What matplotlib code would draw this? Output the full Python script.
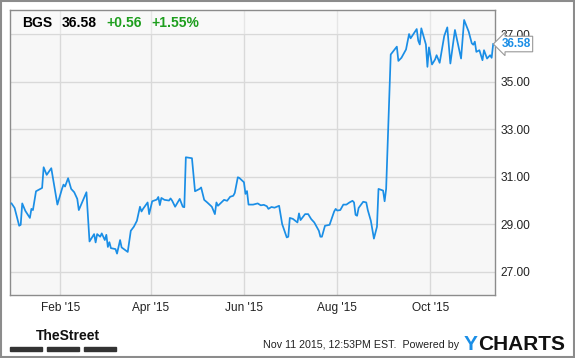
import matplotlib
matplotlib.use("Agg")
import matplotlib.pyplot as plt
import matplotlib.patches as patches
import pandas as pd

plt.rcParams['font.family'] = ['Liberation Sans', 'DejaVu Sans']

# BGS daily close
dates = [
    '2014-12-31', '2015-01-02', '2015-01-05', '2015-01-06', '2015-01-07', '2015-01-09',
    '2015-01-12', '2015-01-13', '2015-01-14', '2015-01-16', '2015-01-20', '2015-01-21',
    '2015-01-23', '2015-01-26', '2015-01-28', '2015-01-30', '2015-02-02', '2015-02-03',
    '2015-02-04', '2015-02-06', '2015-02-08', '2015-02-10', '2015-02-12', '2015-02-13',
    '2015-02-18', '2015-02-20', '2015-02-23', '2015-02-24', '2015-02-25', '2015-02-27',
    '2015-02-28', '2015-03-02', '2015-03-03', '2015-03-04', '2015-03-05', '2015-03-06',
    '2015-03-09', '2015-03-10', '2015-03-12', '2015-03-13', '2015-03-17', '2015-03-19',
    '2015-03-21', '2015-03-23', '2015-03-25', '2015-03-26', '2015-03-27', '2015-03-30',
    '2015-03-31', '2015-04-02', '2015-04-05', '2015-04-06', '2015-04-07', '2015-04-08',
    '2015-04-10', '2015-04-13', '2015-04-14', '2015-04-15', '2015-04-17', '2015-04-20',
    '2015-04-22', '2015-04-23', '2015-04-24', '2015-04-28', '2015-04-30', '2015-05-03',
    '2015-05-04', '2015-05-06', '2015-05-08', '2015-05-11', '2015-05-13', '2015-05-14',
    '2015-05-15', '2015-05-19', '2015-05-21', '2015-05-23', '2015-05-25', '2015-05-26',
    '2015-05-28', '2015-05-29', '2015-06-01', '2015-06-02', '2015-06-03', '2015-06-04',
    '2015-06-07', '2015-06-10', '2015-06-12', '2015-06-14', '2015-06-16', '2015-06-17',
    '2015-06-19', '2015-06-21', '2015-06-24', '2015-06-26', '2015-06-29', '2015-06-30',
    '2015-07-01', '2015-07-03', '2015-07-06', '2015-07-07', '2015-07-08', '2015-07-11',
    '2015-07-13', '2015-07-15', '2015-07-17', '2015-07-20', '2015-07-21', '2015-07-22',
    '2015-07-24', '2015-07-27', '2015-07-30', '2015-07-31', '2015-08-01', '2015-08-03',
    '2015-08-05', '2015-08-07', '2015-08-09', '2015-08-11', '2015-08-12', '2015-08-13',
    '2015-08-14', '2015-08-15', '2015-08-18', '2015-08-20', '2015-08-21', '2015-08-23',
    '2015-08-25', '2015-08-27', '2015-08-28', '2015-08-31', '2015-09-01', '2015-09-02',
    '2015-09-05', '2015-09-09', '2015-09-10', '2015-09-12', '2015-09-15', '2015-09-17',
    '2015-09-18', '2015-09-22', '2015-09-23', '2015-09-24', '2015-09-25', '2015-09-28',
    '2015-09-29', '2015-09-30', '2015-10-02', '2015-10-04', '2015-10-05', '2015-10-07',
    '2015-10-10', '2015-10-12', '2015-10-14', '2015-10-17', '2015-10-21', '2015-10-23',
    '2015-10-26', '2015-10-28', '2015-10-29', '2015-10-30', '2015-10-31', '2015-11-02',
    '2015-11-04', '2015-11-05', '2015-11-07', '2015-11-09', '2015-11-10', '2015-11-11',
]
prices = [
    29.88, 29.69, 28.94, 28.98, 29.88, 29.57,
    29.27, 29.65, 29.60, 30.39, 30.53, 31.40,
    31.08, 31.36, 30.59, 29.83, 30.49, 30.67,
    30.59, 30.94, 30.49, 30.35, 30.07, 29.60,
    30.35, 28.28, 28.59, 28.24, 28.59, 28.48,
    28.62, 28.34, 28.56, 28.05, 28.25, 28.00,
    27.96, 27.77, 28.34, 28.03, 27.84, 28.73,
    28.90, 29.15, 29.74, 29.54, 29.65, 29.92,
    29.43, 29.97, 30.04, 30.15, 29.81, 30.11,
    30.03, 30.00, 30.09, 30.00, 29.74, 30.07,
    29.74, 29.72, 31.82, 31.78, 30.39, 30.49,
    30.55, 30.03, 29.92, 29.74, 29.43, 29.92,
    29.78, 30.03, 29.99, 30.16, 30.20, 30.32,
    30.98, 30.95, 30.77, 30.28, 30.40, 29.83,
    29.83, 29.88, 29.80, 29.82, 29.76, 29.65,
    29.73, 29.70, 29.78, 29.01, 28.45, 28.48,
    29.27, 29.23, 29.08, 29.46, 29.18, 29.43,
    29.43, 29.22, 29.08, 28.73, 28.48, 28.48,
    28.94, 28.98, 29.54, 29.65, 29.58, 29.60,
    29.83, 29.83, 29.92, 29.99, 29.92, 29.40,
    29.36, 29.69, 29.95, 29.92, 29.60, 29.15,
    28.40, 28.90, 30.49, 30.42, 29.97, 30.49,
    36.14, 36.47, 35.87, 36.00, 36.35, 37.00,
    36.82, 37.21, 36.72, 36.56, 37.24, 36.56,
    35.62, 36.44, 35.72, 35.93, 36.11, 35.79,
    36.92, 37.28, 35.76, 37.17, 35.97, 37.59,
    37.10, 36.61, 36.55, 36.68, 36.25, 36.32,
    35.90, 36.32, 35.97, 36.11, 36.00, 36.58,
]

ticker = 'BGS'
last_price = '36.58'
change = '+0.56'
change_pct = '+1.55%'
tick_dates = ['2015-02-01', '2015-04-01', '2015-06-01', '2015-08-01', '2015-10-01']
tick_labels = ["Feb '15", "Apr '15", "Jun '15", "Aug '15", "Oct '15"]
y_ticks = [27, 29, 31, 33, 35, 37]

W, H = 575, 358
blue = '#1a8ee6'
green = '#1e9e1e'

fig = plt.figure(figsize=(W / 100, H / 100), dpi=100)
fig.patch.set_facecolor('white')

def fx(x):
    return x / W

def fy(y):
    return 1 - y / H

ax = fig.add_axes([fx(10), fy(295), fx(494.7) - fx(10), fy(10) - fy(295)])
ax.set_facecolor('#f7f7f7')

d = pd.to_datetime(dates)
ax.plot(d, prices, color=blue, lw=1.25, zorder=3)

ax.set_xlim(d[0] - pd.Timedelta(days=1), d[-1] + pd.Timedelta(days=1))
ax.set_ylim(26.03, 38.01)

ax.set_xticks(pd.to_datetime(tick_dates))
ax.set_xticklabels(tick_labels)
ax.set_yticks(y_ticks)
ax.set_yticklabels(['%.2f' % v for v in y_ticks])
ax.yaxis.tick_right()
ax.tick_params(axis='both', length=0, labelsize=8.6, colors='#222222')
ax.tick_params(axis='x', pad=5)
ax.tick_params(axis='y', pad=4)
ax.grid(True, color='#d9d9d9', lw=1)
ax.set_axisbelow(True)
for s in ax.spines.values():
    s.set_color('#8c8c8c')
    s.set_linewidth(1)

# header band above the top gridline
ax.axhspan(37, 38.2, color='white', alpha=0.35, zorder=1, lw=0)

fig.text(fx(22), fy(23), ticker, fontsize=10, fontweight='bold', va='center', color='black')
fig.text(fx(62), fy(23), last_price, fontsize=10, fontweight='bold', va='center', color='black')
fig.text(fx(106), fy(23), change, fontsize=10, fontweight='bold', va='center', color=green)
fig.text(fx(151), fy(23), change_pct, fontsize=10, fontweight='bold', va='center', color=green)

# last price badge (sits over the 37.00 label, as in the source)
ax.annotate(last_price, xy=(1.0, prices[-1]), xycoords=('axes fraction', 'data'),
            xytext=(5, 0), textcoords='offset points', va='center', ha='left',
            fontsize=8.5, fontweight='bold', color=blue,
            bbox=dict(boxstyle='larrow,pad=0.15', fc='white', ec='#999999', lw=0.8),
            annotation_clip=False, zorder=5)

# footer
fig.text(fx(36), fy(336), 'TheStreet', fontsize=10, fontweight='bold',
         family=['Liberation Sans Narrow', 'Liberation Sans', 'DejaVu Sans'],
         va='center', color='#111111')
for x0 in (10, 47, 84):
    fig.patches.append(patches.Rectangle((fx(x0), fy(351)), fx(32), 4 / H,
                                         transform=fig.transFigure, color='#333333'))
fig.text(fx(459), fy(345), 'Nov 11 2015, 12:53PM EST.  Powered by', fontsize=7.7,
         va='center', ha='right', color='#222222')
y_txt = fig.text(fx(464), fy(344), 'Y', fontsize=15, fontweight='bold', va='center', color=blue)
fig.text(0, 0, '')
ax.annotate('CHARTS', xy=(1, 0.5), xycoords=y_txt, va='center', ha='left',
            fontsize=15, fontweight='bold', color='#111111', annotation_clip=False)

# outer frame
fig.patches.append(patches.Rectangle((0.002, 0.003), 0.996, 0.994, transform=fig.transFigure,
                                     fill=False, ec='#8c8c8c', lw=1.5))

fig.savefig('out.png', dpi=100, facecolor='white')
